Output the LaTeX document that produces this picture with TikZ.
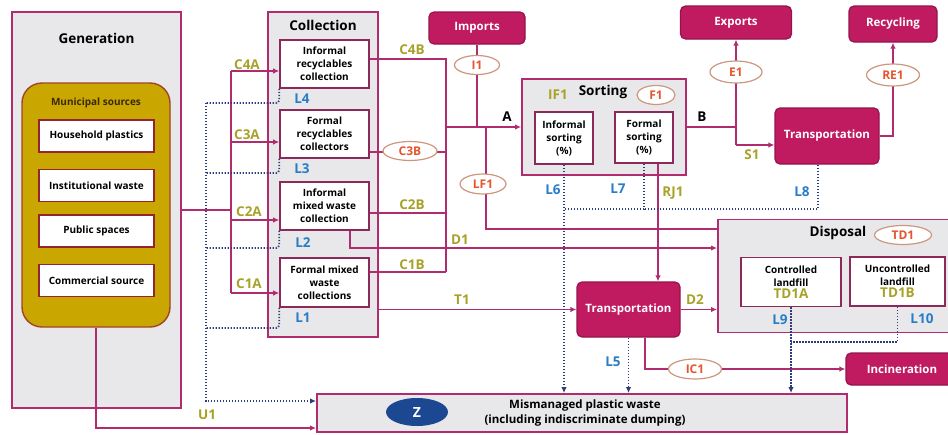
\documentclass[tikz,border=0pt]{standalone}
\usepackage{fontspec}
\setmainfont{Open Sans}
\usetikzlibrary{arrows.meta,shapes.geometric}

\definecolor{mag}{RGB}{176,44,110}
\definecolor{magfill}{RGB}{192,26,96}
\definecolor{hubedge}{RGB}{150,20,75}
\definecolor{boxedge}{RGB}{140,40,90}
\definecolor{panel}{RGB}{232,232,234}
\definecolor{gold}{RGB}{201,166,0}
\definecolor{goldedge}{RGB}{160,70,40}
\definecolor{srcedge}{RGB}{150,35,50}
\definecolor{olive}{RGB}{168,162,40}
\definecolor{lblue}{RGB}{40,125,200}
\definecolor{flowred}{RGB}{228,85,45}
\definecolor{ovaledge}{RGB}{205,150,125}
\definecolor{dotc}{RGB}{45,60,125}
\definecolor{zblue}{RGB}{28,72,145}
\definecolor{muniText}{RGB}{60,40,10}

\tikzset{
  panelbox/.style={draw=mag, line width=1.9pt, fill=panel, inner sep=0pt},
  whitebox/.style={draw=boxedge, line width=1.6pt, fill=white, align=center,
    inner sep=0pt, font=\fontsize{10}{13}\selectfont\bfseries},
  srcbox/.style={draw=srcedge, line width=1.6pt, fill=white, inner sep=0pt,
    minimum width=115pt, minimum height=32pt, font=\fontsize{10}{12}\selectfont\bfseries},
  hub/.style={draw=hubedge, fill=magfill, rounded corners=5pt, line width=1.2pt,
    text=white, font=\fontsize{11.5}{13}\selectfont\bfseries},
  oval/.style={ellipse, draw=ovaledge, fill=white, line width=1.2pt, inner sep=0pt,
    text=flowred, font=\fontsize{12}{14}\selectfont\bfseries},
  ttl/.style={font=\fontsize{13.5}{15}\selectfont\bfseries},
  flowlbl/.style={text=olive, font=\fontsize{13.5}{15}\selectfont\bfseries},
  losslbl/.style={text=lblue, font=\fontsize{13.5}{15}\selectfont\bfseries},
  plainlbl/.style={text=black, font=\fontsize{13.5}{15}\selectfont\bfseries},
  flow/.style={draw=mag, line width=1.8pt},
  arr/.style={flow, -{Latex[length=6pt,width=5.5pt]}},
  leak/.style={draw=dotc, line width=1.8pt, dash pattern=on 1.4pt off 1.6pt},
  leakarr/.style={leak, -{Latex[length=6pt,width=5.5pt]}},
}

\begin{document}
\begin{tikzpicture}[x=1pt,y=-1pt]
\useasboundingbox (0,0) rectangle (948,434);
\clip (0,0) rectangle (948,434);
\fill[white] (0,0) rectangle (948,434);

% ---------- panels ----------
\node[panelbox, minimum width=169pt, minimum height=396pt] (gen) at (96.5,210) {};
\node[ttl] (genT) at (96.5,38) {Generation};
\node[draw=goldedge, fill=gold, line width=1.4pt, rounded corners=20pt,
      minimum width=148pt, minimum height=244pt] (muni) at (96,205) {};
\node[text=muniText, font=\fontsize{10}{12}\selectfont\bfseries] (muniT) at (96,103) {Municipal sources};
\node[srcbox] (s1) at (96.5,136) {Household plastics};
\node[srcbox] (s2) at (96.5,185.5) {Institutional waste};
\node[srcbox] (s3) at (96.5,231) {Public spaces};
\node[srcbox] (s4) at (96.5,280.5) {Commercial source};

\node[panelbox, minimum width=110pt, minimum height=325pt] (coll) at (323,174.5) {};
\node[ttl] (collT) at (323,25) {Collection};

\node[panelbox, minimum width=164pt, minimum height=96pt] (sort) at (604,127) {};
\node[panelbox, minimum width=242pt, minimum height=113pt] (disp) at (839,276) {};
\node[panelbox, minimum width=530pt, minimum height=38pt] (mism) at (582,413) {};

% ---------- boxes ----------
\node[whitebox, minimum width=89pt, minimum height=48pt] (cIR) at (324.5,64) {Informal\\recyclables\\collection};
\node[whitebox, minimum width=89pt, minimum height=48pt] (cFR) at (324.5,134) {Formal\\recyclables\\collectors};
\node[whitebox, minimum width=89pt, minimum height=48pt] (cIM) at (324.5,206) {Informal\\mixed waste\\collection};
\node[whitebox, minimum width=89pt, minimum height=49pt] (cFM) at (324.5,282.5) {Formal mixed\\waste\\collections};

\node[whitebox, minimum width=58pt, minimum height=52pt] (isort) at (564,138) {Informal\\sorting\\(\%)};
\node[whitebox, minimum width=58pt, minimum height=51pt] (fsort) at (644,137.5) {Formal\\sorting\\(\%)};

\node[whitebox, minimum width=100pt, minimum height=49pt] (ctrl) at (791,282)
  {Controlled\\landfill\\[-1pt]{\color{olive}\fontsize{13.5}{15}\selectfont TD1A}};
\node[whitebox, minimum width=95pt, minimum height=49pt] (uctrl) at (897.5,281.5)
  {Uncontrolled\\landfill\\[-1pt]{\color{olive}\fontsize{13.5}{15}\selectfont TD1B}};

\node[hub, minimum width=96pt, minimum height=32pt] (imports) at (477,28) {Imports};
\node[hub, minimum width=111pt, minimum height=33pt] (exports) at (736,22.5) {Exports};
\node[hub, minimum width=88pt, minimum height=36pt] (recyc) at (893,24) {Recycling};
\node[hub, minimum width=104pt, minimum height=56pt] (transU) at (827,136) {Transportation};
\node[hub, minimum width=103pt, minimum height=55pt] (transL) at (628.5,309.5) {Transportation};
\node[hub, minimum width=114pt, minimum height=32pt] (incin) at (903,369) {};
\node[text=white, font=\fontsize{11.5}{13}\selectfont\bfseries] (incinT) at (902,369) {Incineration};

% ---------- generation to collection ----------
\coordinate (cbTop) at (231,71);
\coordinate (cbBot) at (231,293);
\coordinate (aFR) at ([yshift=-8pt]cFR.west);
\coordinate (aIM) at ([yshift=-14pt]cIM.west);
\draw[flow] (gen.east) -- (gen.east -| cbTop);
\draw[flow] (cbTop) -- (cbBot);
\draw[arr] (cbTop) -- (cbTop -| cIR.west);
\draw[arr] (aFR -| cbTop) -- (aFR);
\draw[arr] (aIM -| cbTop) -- (aIM);
\draw[arr] (cbBot) -- (cbBot -| cFM.west);

% ---------- collection to sorting ----------
\coordinate (rbBot) at (446,272);
\coordinate (bIR) at ([yshift=5pt]cIR.east);
\coordinate (bFR) at ([yshift=-18pt]cFR.east);
\coordinate (bIM) at ([yshift=-7pt]cIM.east);
\coordinate (bFM) at ([yshift=10.5pt]cFM.east);
\draw[flow] (bIR) -| (rbBot);
\draw[flow] (bFR) -- (bFR -| rbBot);
\draw[flow] (bIM) -- (bIM -| rbBot);
\draw[flow] (bFM) -- (rbBot);
\draw[arr] (sort.west -| rbBot) -- (sort.west);
\draw[flow] (imports.south) -- (imports.south |- sort.west);

% leakage from the sorting feed to disposal
\coordinate (lf) at (486,229);
\draw[flow] (lf |- sort.west) -- (lf) -- (lf -| disp.west);

% D1, T1, D2, RJ1
\coordinate (d1s) at ([xshift=25.5pt]cIM.south);
\coordinate (d1y) at (0,248);
\draw[arr] (d1s) |- (d1y -| disp.west);
\draw[arr] (transL.west -| coll.east) -- (transL.west);
\draw[arr] (transL.east) -- (transL.east -| disp.west);
\coordinate (rj) at ([xshift=14pt]fsort.south);
\draw[arr] (rj) -- (rj |- transL.north);

% sorting outputs
\coordinate (bj) at (736,145);
\draw[flow] (sort.east) -- (sort.east -| bj);
\draw[arr] (bj) -- (bj -| transU.west);
\draw[arr] (bj) -- (exports.south);
\draw[arr] (transU.east) -| (recyc.south);

% incineration and unmanaged flow
\coordinate (ic) at ([xshift=16.5pt]transL.south);
\draw[arr] (ic) |- (incin.west);
\coordinate (u1) at ([yshift=-15pt]mism.west);
\draw[arr] (muni.south) |- (u1);

% ---------- leakage (dotted) ----------
\coordinate (lbTop) at (206,103);
\coordinate (lb3) at (206,173);
\coordinate (lb2) at (206,248);
\coordinate (lb1) at (206,328);
\coordinate (lm) at ([yshift=12pt]mism.west);
\draw[leak, rounded corners=3pt] (cIR.south west) |- (lbTop);
\draw[leak, rounded corners=3pt] (cFR.south west) |- (lb3);
\draw[leak, rounded corners=3pt] (cIM.south west) |- (lb2);
\draw[leak, rounded corners=3pt] (cFM.south west) |- (lb1);
\draw[leakarr] (lbTop) -- (lm -| lbTop) -- (lm);

\coordinate (sl) at (0,209);
\draw[leakarr] (isort.south) -- (isort.south |- mism.north);
\draw[leak] (fsort.south) |- (sl -| isort.south);
\coordinate (l8s) at ([xshift=-9pt]transU.south);
\draw[leak] (l8s) |- (sl -| fsort.south);
\draw[leakarr] (transL.south) -- (transL.south |- mism.north);
\draw[leakarr] (ctrl.south) -- (ctrl.south |- mism.north);
\coordinate (dl) at (0,342);
\draw[leak] (uctrl.south) |- (dl -| ctrl.south);

% ---------- ovals on the flows ----------
\node[oval, minimum width=45pt, minimum height=19pt] (I1) at (477,65) {I1};
\node[oval, minimum width=54pt, minimum height=19pt] (C3B) at (410,151) {C3B};
\node[oval, minimum width=46pt, minimum height=20pt] (LF1) at (483,184) {LF1};
\node[oval, minimum width=52pt, minimum height=22pt] (E1) at (736,72) {E1};
\node[oval, minimum width=53pt, minimum height=22pt] (RE1) at (893,75) {RE1};
\node[oval, minimum width=53pt, minimum height=20pt] (IC1) at (695,369) {IC1};
\node[oval, minimum width=38pt, minimum height=19pt] (F1) at (656,95) {F1};
\node[oval, minimum width=57pt, minimum height=19pt] (TD1) at (903,235) {TD1};

% ---------- panel titles ----------
\node[ttl] (sortT) at (603,92) {Sorting};
\node[flowlbl] (IF1) at (558,95) {IF1};
\node[ttl] (dispT) at (838,233) {Disposal};
\node[ellipse, fill=zblue, minimum width=62pt, minimum height=28pt, inner sep=0pt,
      text=white, font=\fontsize{14}{16}\selectfont\bfseries] (Z) at (417,412) {Z};
\node[align=center, font=\fontsize{11.5}{15}\selectfont\bfseries] (mismT) at (585,413)
  {Mismanaged plastic waste\\(including indiscriminate dumping)};

% ---------- flow labels ----------
\node[flowlbl] (C4A) at (247,65) {C4A};
\node[flowlbl] (C3A) at (247,135) {C3A};
\node[flowlbl] (C2A) at (249,212) {C2A};
\node[flowlbl] (C1A) at (249,284) {C1A};
\node[flowlbl] (C4B) at (412,50) {C4B};
\node[flowlbl] (C2B) at (412,205) {C2B};
\node[flowlbl] (C1B) at (412,265) {C1B};
\node[flowlbl] (D1) at (460,240) {D1};
\node[flowlbl] (T1) at (462,300) {T1};
\node[flowlbl] (D2) at (695,300) {D2};
\node[flowlbl] (S1) at (752,155) {S1};
\node[flowlbl] (RJ1) at (673,193) {RJ1};
\node[flowlbl] (U1) at (207,415) {U1};
\node[plainlbl] (A) at (507,117) {A};
\node[plainlbl] (B) at (702,117) {B};

% ---------- leakage labels ----------
\node[losslbl] (L4) at (302,99) {L4};
\node[losslbl] (L3) at (302,169) {L3};
\node[losslbl] (L2) at (303,243) {L2};
\node[losslbl] (L1) at (303,318) {L1};
\node[losslbl] (L6) at (553,190) {L6};
\node[losslbl] (L7) at (618,189) {L7};
\node[losslbl] (L8) at (802,192) {L8};
\node[losslbl] (L5) at (613,362) {L5};
\node[losslbl] (L9) at (780,320) {L9};
\node[losslbl] (L10) at (922,319) {L10};
\end{tikzpicture}
\end{document}
